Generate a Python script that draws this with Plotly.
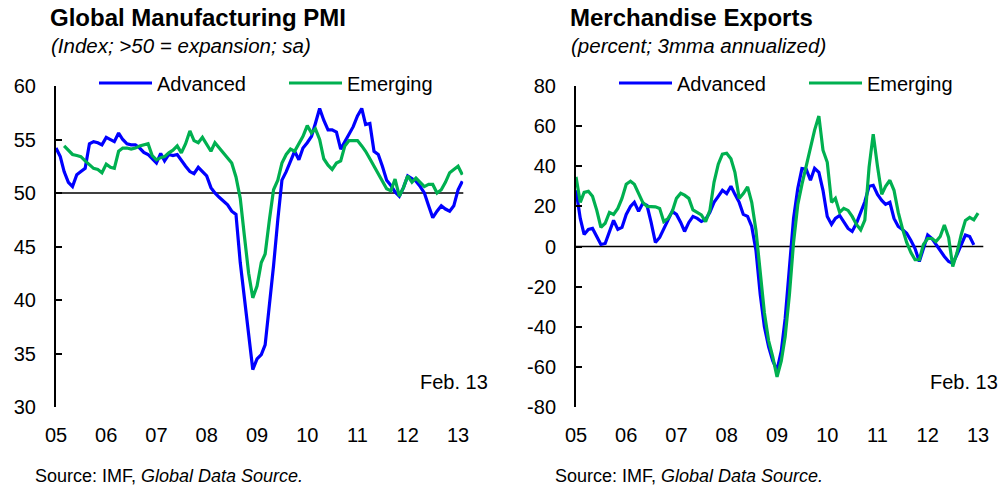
import pandas as pd
import plotly.graph_objects as go

# ---------------- data ----------------
year_labels = ["05", "06", "07", "08", "09", "10", "11", "12", "13"]
year_starts = [f"{y}-01-01" for y in range(2005, 2014)]

pmi_ticks = [30, 35, 40, 45, 50, 55, 60]
pmi_ticktext = ["30", "35", "40", "45", "50", "55", "60"]
exp_ticks = [-80, -60, -40, -20, 0, 20, 40, 60, 80]
exp_ticktext = ["-80", "-60", "-40", "-20", "0", "20", "40", "60", "80"]

# Global Manufacturing PMI, Advanced (Jan 2005 - Feb 2013)
pmi_advanced = [
    54.2, 53.4, 52.0, 51.0, 50.6, 51.7, 52.0, 52.3, 54.6, 54.8, 54.7, 54.5,
    55.2, 55.0, 54.8, 55.6, 55.0, 54.6, 54.5, 54.5, 54.2, 53.8, 53.6, 53.2,
    52.8, 53.7, 53.0, 53.6, 53.5, 53.6, 53.0, 52.5, 52.0, 51.8, 52.4, 52.0,
    51.6, 50.5, 50.0, 49.6, 49.3, 48.9, 48.3, 48.0, 43.5, 40.0, 37.0, 33.5,
    34.5, 34.9, 35.8, 39.5, 43.2, 47.5, 51.2, 52.0, 52.9, 53.9, 53.1, 54.2,
    54.7, 55.3, 56.5, 57.9, 56.8, 55.9, 55.9, 55.7, 54.1, 54.8, 55.6, 56.2,
    57.2, 57.9, 56.4, 56.5, 53.9, 53.6, 52.5, 51.2, 50.7, 50.1, 49.7, 50.5,
    51.6, 51.3, 51.1, 50.6, 50.0, 48.8, 47.7, 48.3, 48.8, 48.5, 48.3, 48.8,
    50.3, 51.1,
]
# Global Manufacturing PMI, Emerging (Mar 2005 - Feb 2013)
pmi_emerging = [
    54.4, 54.0, 53.6, 53.5, 53.4, 53.0, 52.6, 52.3, 52.2, 51.9,
    52.7, 52.4, 52.3, 53.9, 54.2, 54.2, 54.1, 54.2, 54.4, 54.5, 54.6, 53.5,
    53.1, 53.3, 53.4, 53.75, 54.0, 54.4, 53.75, 54.6, 55.8, 54.9, 54.7, 55.2,
    54.5, 53.9, 54.7, 54.2, 53.75, 53.3, 52.8, 51.5, 49.5, 46.0, 42.5, 40.2,
    41.3, 43.5, 44.3, 47.5, 50.3, 51.2, 52.8, 53.6, 54.1, 53.9, 54.6, 55.3,
    56.3, 55.6, 56.0, 55.0, 53.2, 52.6, 52.2, 52.8, 53.0, 54.4, 54.9, 54.9,
    54.9, 54.4, 53.9, 53.2, 52.5, 51.8, 51.2, 50.4, 50.2, 51.3, 49.7, 50.5,
    51.6, 51.0, 51.4, 51.0, 50.6, 50.8, 50.8, 50.0, 50.3, 51.0, 51.9, 52.2,
    52.5, 51.7,
]
# Merchandise exports, Advanced (Jan 2005 - Dec 2012)
exp_advanced = [
    28, 14, 6, 8.5, 9, 5, 1, 1.5, 7.5, 13, 8.5, 9.5,
    16, 20, 22, 17.5, 21.5, 20.5, 12, 2, 4.5, 9, 13, 17.5,
    16, 12, 7.5, 12, 15, 14, 12.5, 13.5, 17, 22, 25, 28,
    26.4, 30, 26, 22, 16, 15, 10, -2, -24, -40, -50, -57,
    -61.6, -52, -36, -12, 14, 29, 38.8, 38.5, 33, 39, 37, 28,
    15, 11, 14, 15.5, 12, 9, 7.5, 11.6, 17, 22.3, 30, 30.5,
    26, 23, 21, 22, 14, 10, 8.5, 6.6, 3, -1, -7.5, -1,
    5.7, 4, 1, -1.7, -5, -7.5, -8.4, -4, 0.8, 5.7, 5, 0.8,
]
# Merchandise exports, Emerging (Jan 2005 - Jan 2013)
exp_emerging = [
    34.7, 22, 27, 27.5, 25, 18, 9.5, 11.6, 17, 16, 19, 24,
    31, 32.5, 31, 26, 22, 20, 19.8, 19.8, 19, 12.4, 14, 17.3,
    24, 26.5, 25.6, 24, 18.2, 17, 15.7, 12.4, 18, 32, 41, 46,
    46.5, 43.7, 37, 24, 26.4, 29.7, 22, 8, -12, -33, -47, -55,
    -65, -57, -45, -24, 2, 21, 31, 40, 50, 58, 65, 48,
    42, 22, 24, 17, 19, 18, 15, 11, 8.3, 13.2, 39.6, 56,
    40, 26, 30, 33, 28, 17, 9, 2, -3, -6.6, -6.6, 1,
    4, 4, 2.5, 5, 10.7, 4.5, -10, -3, 6, 13, 14.5, 13.3,
    16.6,
]

months = pd.date_range("2005-01-01", periods=98, freq="MS")

# ---------------- styling ----------------
W, H = 1003, 487
BLUE = "#0000FF"
GREEN = "#00B050"
FONT = "Liberation Sans, Arial, sans-serif"


def px_x(p):
    return p / W


def px_y(p):
    return 1 - p / H


fig = go.Figure()
fig.add_trace(go.Scatter(x=months[:len(pmi_advanced)], y=pmi_advanced, name="Advanced",
                         mode="lines", line=dict(color=BLUE, width=3.2),
                         xaxis="x", yaxis="y", legend="legend"))
fig.add_trace(go.Scatter(x=months[2:2 + len(pmi_emerging)], y=pmi_emerging, name="Emerging",
                         mode="lines", line=dict(color=GREEN, width=3.2),
                         xaxis="x", yaxis="y", legend="legend"))
fig.add_trace(go.Scatter(x=months[:len(exp_advanced)], y=exp_advanced, name="Advanced",
                         mode="lines", line=dict(color=BLUE, width=3.2),
                         xaxis="x2", yaxis="y2", legend="legend2"))
fig.add_trace(go.Scatter(x=months[:len(exp_emerging)], y=exp_emerging, name="Emerging",
                         mode="lines", line=dict(color=GREEN, width=3.2),
                         xaxis="x2", yaxis="y2", legend="legend2"))

xcommon = dict(type="date", range=["2005-01-01", "2013-02-08"],
               tickmode="array", tickvals=year_starts, ticktext=year_labels,
               showgrid=False, zeroline=False, showline=False, ticks="",
               ticklabelstandoff=14, tickfont=dict(size=20, color="black"),
               fixedrange=True, automargin=False)
ycommon = dict(showgrid=False, zeroline=False, showline=True, linecolor="black",
               linewidth=2, ticks="inside", ticklen=6, tickwidth=2, tickcolor="black",
               ticklabelstandoff=14, tickfont=dict(size=20, color="black"),
               tickmode="array", fixedrange=True, automargin=False)

ydom = [px_y(407), px_y(86)]

legend_common = dict(orientation="h", y=px_y(83), xanchor="left", yanchor="middle",
                     itemwidth=53, entrywidth=122, entrywidthmode="pixels",
                     bgcolor="rgba(0,0,0,0)", font=dict(size=20, color="black"),
                     borderwidth=0, tracegroupgap=0)

fig.update_layout(
    template="none",
    width=W, height=H,
    margin=dict(l=0, r=0, t=0, b=0, pad=0, autoexpand=False),
    paper_bgcolor="white", plot_bgcolor="white",
    font=dict(family=FONT, size=20, color="black"),
    xaxis=dict(xcommon, domain=[px_x(56), px_x(463.3)], anchor="y"),
    yaxis=dict(ycommon, domain=ydom, range=[30, 60], tickvals=pmi_ticks,
               ticktext=pmi_ticktext, anchor="x"),
    xaxis2=dict(xcommon, domain=[px_x(576), px_x(983.3)], anchor="y2"),
    yaxis2=dict(ycommon, domain=ydom, range=[-80, 80], tickvals=exp_ticks,
                ticktext=exp_ticktext, anchor="x2"),
    legend=dict(legend_common, x=px_x(94)),
    legend2=dict(legend_common, x=px_x(614)),
    shapes=[
        dict(type="line", xref="x domain", yref="y", x0=0, x1=1, y0=50, y1=50,
             line=dict(color="black", width=1.5), layer="below"),
        dict(type="line", xref="x2 domain", yref="y2", x0=0, x1=1, y0=0, y1=0,
             line=dict(color="black", width=1.5), layer="below"),
    ],
    showlegend=True,
)

annotations = [
    dict(text="<b>Global Manufacturing PMI</b>", x=px_x(48), y=px_y(18), size=24),
    dict(text="<i>(Index; >50 = expansion; sa)</i>", x=px_x(49), y=px_y(46), size=20.5),
    dict(text="<b>Merchandise Exports</b>", x=px_x(568), y=px_y(18), size=24),
    dict(text="<i>(percent; 3mma annualized)</i>", x=px_x(569), y=px_y(46), size=20.5),
    dict(text="Source: IMF, <i>Global Data Source.</i>", x=px_x(33), y=px_y(476), size=18),
    dict(text="Source: IMF, <i>Global Data Source.</i>", x=px_x(553), y=px_y(476), size=18),
]
for a in annotations:
    fig.add_annotation(text=a["text"], xref="paper", yref="paper", x=a["x"], y=a["y"],
                       xanchor="left", yanchor="middle", showarrow=False,
                       font=dict(family=FONT, size=a["size"], color="black"))
for xr in (490, 1000):
    fig.add_annotation(text="Feb. 13", xref="paper", yref="paper", x=px_x(xr), y=px_y(382),
                       xanchor="right", yanchor="middle", showarrow=False,
                       font=dict(family=FONT, size=20, color="black"))

fig.write_html("out.html",
               config={"displayModeBar": False, "staticPlot": False},
               post_script="document.body.style.margin='0px';"
                           "document.body.style.overflow='hidden';")
